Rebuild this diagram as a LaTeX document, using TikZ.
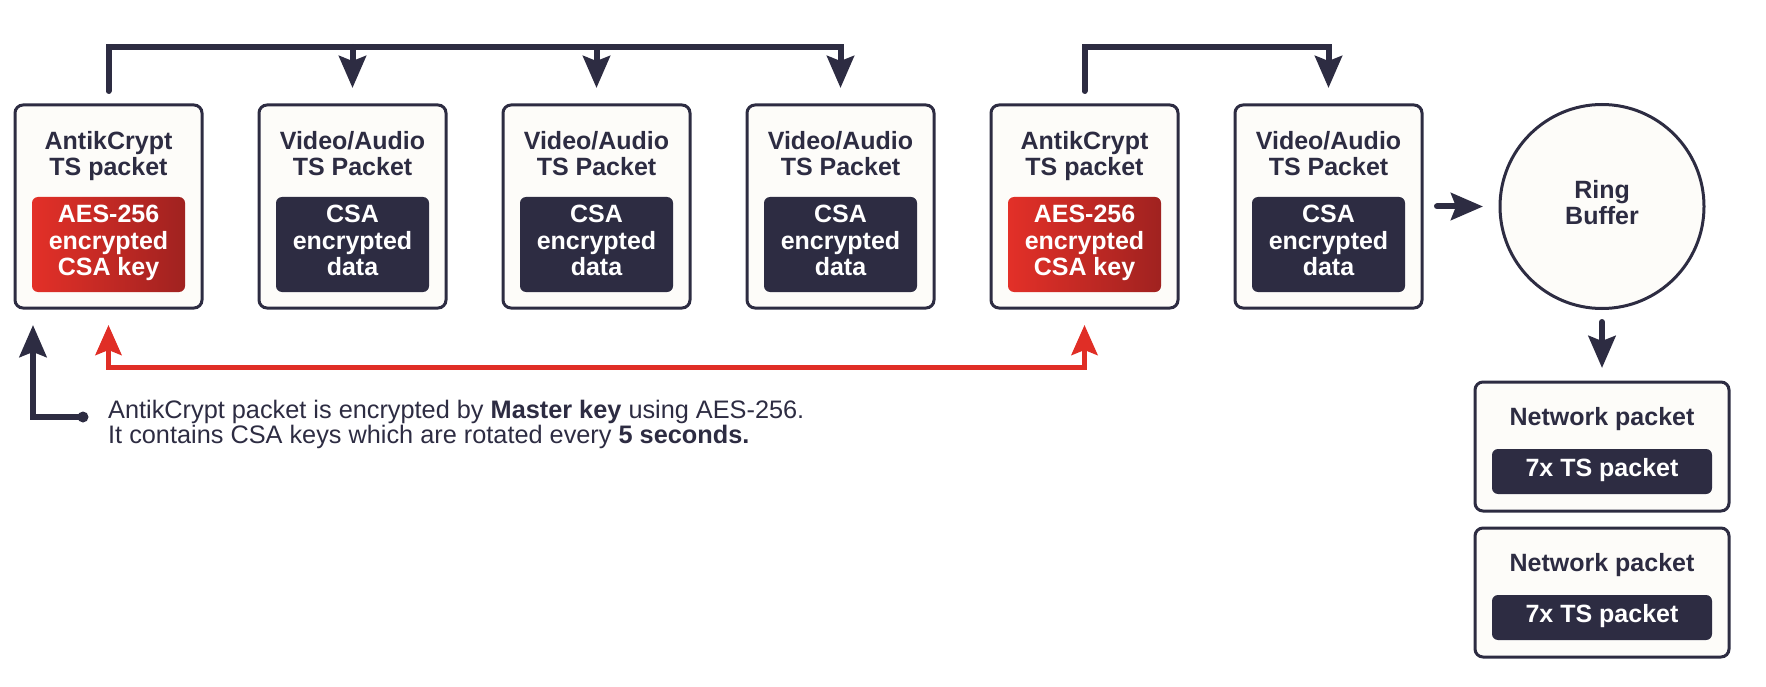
\documentclass[tikz,border=0pt]{standalone}
\usepackage{fontspec}
\setmainfont{Liberation Sans}
\usetikzlibrary{arrows.meta}
\definecolor{navy}{RGB}{45,44,66}
\definecolor{keyred}{RGB}{227,48,40}
\definecolor{keyreddark}{RGB}{160,34,32}
\definecolor{linkred}{RGB}{224,46,38}
\definecolor{paper}{RGB}{253,252,249}

\begin{document}
\begin{tikzpicture}[x=1pt,y=1pt,
  packet/.style={draw=navy, line width=3pt, fill=paper, rounded corners=8pt, inner sep=0pt, outer sep=0pt, minimum width=187pt, minimum height=203pt},
  netpacket/.style={packet, minimum width=254pt, minimum height=129pt},
  title/.style={font=\fontsize{25}{26}\selectfont\bfseries, text=navy, align=center, anchor=north, inner sep=0pt, execute at begin node=\strut},
  datakey/.style={fill=navy, rounded corners=6pt, inner sep=0pt, minimum width=153pt, minimum height=95pt, text=white, align=center, font=\fontsize{25}{26.5}\selectfont\bfseries, execute at begin node=\strut, execute at end node=\strut},
  aeskey/.style={datakey, fill=none, left color=keyred, right color=keyreddark},
  tspack/.style={datakey, minimum width=220pt, minimum height=45pt},
  ring/.style={circle, draw=navy, line width=3pt, fill=paper, minimum size=204pt, inner sep=0pt, outer sep=0pt, align=center, text=navy, font=\fontsize{25}{26}\selectfont\bfseries, execute at begin node=\strut, execute at end node=\strut},
  note/.style={anchor=north west, align=left, inner sep=0pt, text=navy, font=\fontsize{25.3}{25}\selectfont, execute at begin node=\strut},
  link/.style={draw=navy, line width=6pt, line cap=round},
  linkarrow/.style={-{Stealth[length=32pt,width=27pt,inset=5pt]}},
  redlink/.style={draw=linkred, line width=5pt, {Stealth[length=30pt,width=26pt,inset=5pt]}-{Stealth[length=30pt,width=26pt,inset=5pt]}}]
\useasboundingbox (0,0) rectangle (1766,-687);

\node[packet] (p1) at (108.5,-206.5) {};
\node[title] (t1) at (108.5,-130.8) {AntikCrypt\\TS packet};
\node[aeskey] (k1) at (108.5,-244.5) {AES-256\\encrypted\\CSA key};
\node[packet] (p2) at (352.5,-206.5) {};
\node[title] (t2) at (352.5,-130.8) {Video/Audio\\TS Packet};
\node[datakey] (d2) at (352.5,-244.5) {CSA\\encrypted\\data};
\node[packet] (p3) at (596.5,-206.5) {};
\node[title] (t3) at (596.5,-130.8) {Video/Audio\\TS Packet};
\node[datakey] (d3) at (596.5,-244.5) {CSA\\encrypted\\data};
\node[packet] (p4) at (840.5,-206.5) {};
\node[title] (t4) at (840.5,-130.8) {Video/Audio\\TS Packet};
\node[datakey] (d4) at (840.5,-244.5) {CSA\\encrypted\\data};
\node[packet] (p5) at (1084.5,-206.5) {};
\node[title] (t5) at (1084.5,-130.8) {AntikCrypt\\TS packet};
\node[aeskey] (k5) at (1084.5,-244.5) {AES-256\\encrypted\\CSA key};
\node[packet] (p6) at (1328.5,-206.5) {};
\node[title] (t6) at (1328.5,-130.8) {Video/Audio\\TS Packet};
\node[datakey] (d6) at (1328.5,-244.5) {CSA\\encrypted\\data};

\node[ring] (ring) at (1602,-206.5) {Ring\\Buffer};

\node[netpacket] (n1) at (1602,-446.5) {};
\node[title] (nt1) at (1602,-406.8) {Network packet};
\node[tspack] (ts1) at (1602,-471.5) {7x TS packet};
\node[netpacket] (n2) at (1602,-592.5) {};
\node[title] (nt2) at (1602,-552.8) {Network packet};
\node[tspack] (ts2) at (1602,-617.5) {7x TS packet};

\node[note] (note) at (108,-399.5) {AntikCrypt packet is encrypted by \textbf{Master key} using AES-256.\\It contains CSA keys which are rotated every \textbf{5 seconds.}};
\coordinate (dot) at ([xshift=-25pt,yshift=-17.5pt]note.north west);

\coordinate (top) at (0,-47);
\coordinate (base) at (0,-367);
\draw[link, linkarrow, shorten <=14pt, shorten >=17pt] (p1.north) -- (p1.north |- top) -| (p4.north);
\draw[link, linkarrow, shorten >=17pt] (p2.north |- top) -- (p2.north);
\draw[link, linkarrow, shorten >=17pt] (p3.north |- top) -- (p3.north);
\draw[link, linkarrow, shorten <=14pt, shorten >=17pt] (p5.north) -- (p5.north |- top) -| (p6.north);
\draw[redlink, shorten <=17pt, shorten >=17pt] (p1.south) -- (p1.south |- base) -| (p5.south);
\draw[link, linkarrow] (dot) -| ([xshift=18pt,yshift=-17pt]p1.south west);
\fill[navy] (dot) circle (5.5pt);
\draw[link, linkarrow, shorten <=15pt, shorten >=17pt] (p6.east) -- (ring.west);
\draw[link, linkarrow, shorten <=13.5pt, shorten >=14pt] (ring.south) -- (n1.north);
\end{tikzpicture}
\end{document}
